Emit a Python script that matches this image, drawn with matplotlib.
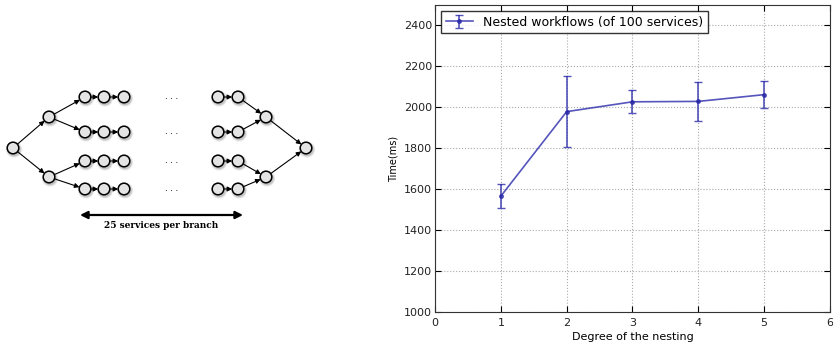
import numpy as np
import matplotlib
matplotlib.use("Agg")
import matplotlib.pyplot as plt
from matplotlib.patches import Circle, FancyArrowPatch

# chart data
nesting = [1, 2, 3, 4, 5]
time_ms = [1566, 1979, 2027, 2029, 2062]
time_err = [60, 173, 56, 96, 67]

# diagram structure (pixel layout of the left figure)
row_y = [97, 132, 161, 189]
left_cols = [85, 104, 124]
right_cols = [218, 238]
split_x, merge_x = 49, 266
split_y = [117, 177]
start_node = (13, 148)
end_node = (306, 148)
dots_x = 172

fig = plt.figure(figsize=(8.33, 3.45), dpi=100)
fig.patch.set_facecolor("white")

# ---- left: workflow diagram ----
axd = fig.add_axes([0, 0, 350 / 833, 1])
axd.set_xlim(0, 350)
axd.set_ylim(345, 0)
axd.axis("off")

r = 5.8

def node(x, y):
    for k, a in [(2.4, 0.15), (1.6, 0.25), (0.8, 0.35)]:
        axd.add_patch(Circle((x + 1.0, y + 1.5), r + k, color="#999999", alpha=a, lw=0, zorder=1))
    axd.add_patch(Circle((x, y), r, facecolor="#e4e4e4", edgecolor="black", lw=1.1, zorder=3))

def arrow(p, q):
    v = np.subtract(q, p)
    v = v / np.hypot(*v)
    a = np.add(p, v * r)
    b = np.subtract(q, v * r)
    axd.add_patch(FancyArrowPatch(a, b, arrowstyle="-|>", mutation_scale=7, lw=0.8,
                                  color="black", shrinkA=0, shrinkB=0, zorder=2))

node(*start_node)
node(*end_node)
for i, sy in enumerate(split_y):
    node(split_x, sy)
    node(merge_x, sy)
    arrow(start_node, (split_x, sy))
    arrow((merge_x, sy), end_node)
    for ry in row_y[2 * i:2 * i + 2]:
        arrow((split_x, sy), (left_cols[0], ry))
        arrow((right_cols[-1], ry), (merge_x, sy))
for ry in row_y:
    for cx in left_cols + right_cols:
        node(cx, ry)
    for a, b in zip(left_cols[:-1], left_cols[1:]):
        arrow((a, ry), (b, ry))
    arrow((right_cols[0], ry), (right_cols[1], ry))
    axd.text(dots_x, ry, ". . .", ha="center", va="center", fontsize=6, family="DejaVu Serif")

axd.add_patch(FancyArrowPatch((80, 215), (243, 215), arrowstyle="<|-|>", mutation_scale=11,
                              lw=1.6, color="black", shrinkA=0, shrinkB=0))
axd.text(161, 225, "25 services per branch", ha="center", va="center", fontsize=6.5,
         family="DejaVu Serif", fontweight="bold")

# ---- right: chart ----
ax = fig.add_axes([435 / 833, 33 / 345, 395 / 833, 307 / 345])
ax.errorbar(nesting, time_ms, yerr=time_err, color="#2a2aaa", alpha=0.8, lw=1.2,
            marker="o", markersize=2.5, capsize=3, elinewidth=1.2,
            label="Nested workflows (of 100 services)")
ax.set_xlim(0, 6)
ax.set_ylim(1000, 2500)
ax.set_yticks(np.arange(1000, 2401, 200))
ax.set_xticks(range(0, 7))
ax.grid(True, linestyle=":", color="#aaaaaa", lw=0.8)
ax.tick_params(direction="in", labelsize=8, length=4, top=True, right=True, pad=2,
               labelcolor="#222222")
ax.tick_params(axis="x", pad=4)
for s in ax.spines.values():
    s.set_color("#333333")
ax.set_xlabel("Degree of the nesting", fontsize=8, labelpad=3)
ax.set_ylabel("Time(ms)", fontsize=7, labelpad=4)
leg = ax.legend(loc="upper left", fontsize=9, fancybox=False, handlelength=2.2,
                borderaxespad=0.5, borderpad=0.35)
leg.get_frame().set_edgecolor("black")

fig.savefig("out.png", dpi=100)
